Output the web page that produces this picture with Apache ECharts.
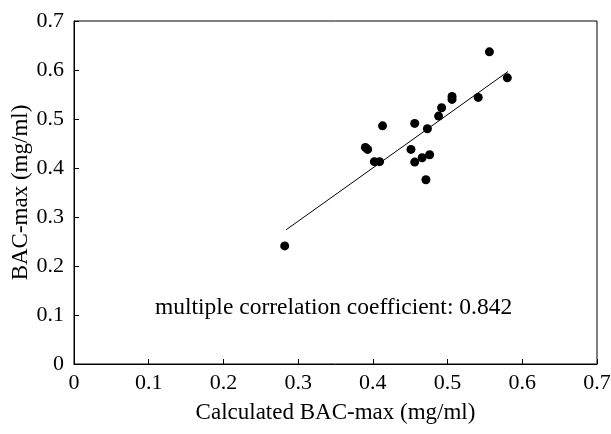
<!DOCTYPE html>
<html>
<head>
<meta charset="utf-8">
<script src="https://cdn.jsdelivr.net/npm/echarts@6/dist/echarts.min.js"></script>
<style>html,body{margin:0;padding:0;background:#fff}#c{width:611px;height:434px}</style>
</head>
<body>
<div id="c"></div>
<script>
var calculated = [0.556,0.580,0.541,0.506,0.506,0.492,0.488,0.456,0.413,0.473,0.390,0.393,0.451,0.402,0.409,0.456,0.466,0.476,0.471,0.282];
var measured   = [0.637,0.584,0.544,0.546,0.540,0.523,0.506,0.491,0.486,0.480,0.442,0.438,0.438,0.413,0.413,0.412,0.421,0.427,0.376,0.241];
var fitX = [0.284,0.581];
var fitY = [0.274,0.597];
var ticks = [0,0.1,0.2,0.3,0.4,0.5,0.6,0.7];
var annotation = 'multiple correlation coefficient: 0.842';

var pts = calculated.map(function(x,i){return [x, measured[i]];});
var fit = fitX.map(function(x,i){return [x, fitY[i]];});
var font = 'Liberation Serif';
var fmt = function(v){return String(Math.round(v*10)/10);};
var chart = echarts.init(document.getElementById('c'), null, {renderer:'canvas'});
chart.setOption({
  animation:false,
  backgroundColor:'#fff',
  grid:{left:74,right:14,top:21,bottom:70,containLabel:false,outerBoundsMode:'none',show:true,borderColor:'#000',borderWidth:1,backgroundColor:'transparent'},
  xAxis:{type:'value',min:ticks[0],max:ticks[ticks.length-1],interval:0.1,
    name:'Calculated BAC-max (mg/ml)',nameLocation:'middle',nameGap:37,nameMoveOverlap:false,
    nameTextStyle:{fontFamily:font,fontSize:23,color:'#000'},
    axisLine:{show:true,lineStyle:{color:'#000',width:1}},
    axisTick:{show:true,inside:true,length:5,lineStyle:{color:'#000'}},
    axisLabel:{fontFamily:font,fontSize:22,color:'#000',margin:8,formatter:fmt,hideOverlap:false},
    splitLine:{show:false}},
  yAxis:{type:'value',min:ticks[0],max:ticks[ticks.length-1],interval:0.1,
    name:'BAC-max (mg/ml)',nameLocation:'middle',nameGap:42,nameMoveOverlap:false,
    nameTextStyle:{fontFamily:font,fontSize:23,color:'#000'},
    axisLine:{show:true,lineStyle:{color:'#000',width:1}},
    axisTick:{show:true,inside:true,length:5,lineStyle:{color:'#000'}},
    axisLabel:{fontFamily:font,fontSize:22,color:'#000',margin:10,formatter:fmt},
    splitLine:{show:false}},
  graphic:[{type:'text',left:155,top:296,style:{text:annotation,fontFamily:font,fontSize:23.5,fill:'#000'}}],
  series:[
    {type:'line',data:fit,symbol:'none',lineStyle:{color:'#000',width:1},z:2},
    {type:'scatter',data:pts,symbol:'circle',symbolSize:9,itemStyle:{color:'#000',opacity:1},z:3}
  ]
});
</script>
</body>
</html>
